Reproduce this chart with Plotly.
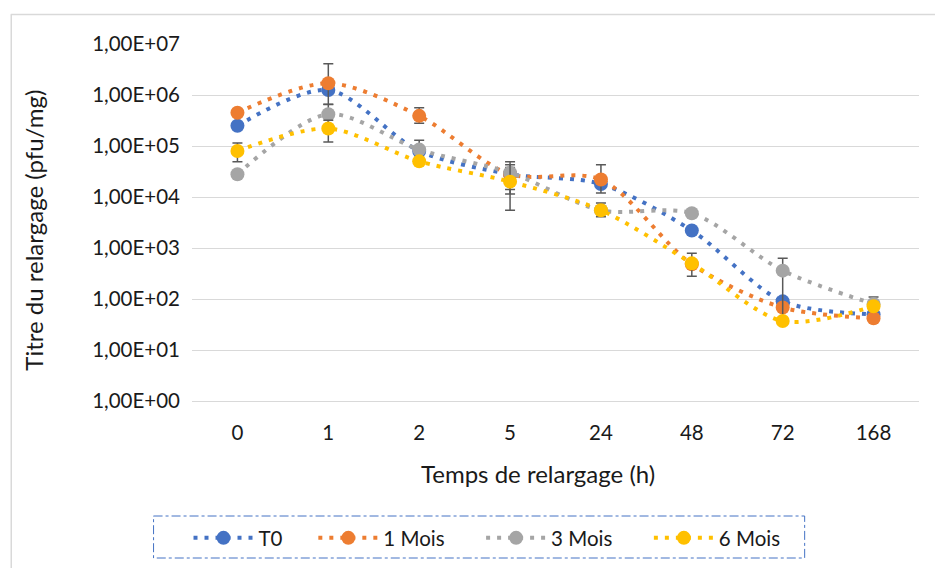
import plotly.graph_objects as go

categories = ["0", "1", "2", "5", "24", "48", "72", "168"]
series_names = ["T0", "1 Mois", "3 Mois", "6 Mois"]

t0 = [2.5e5, 1.25e6, 8.0e4, 2.8e4, 1.8e4, 2.2e3, 90, 50]
m1 = [4.5e5, 1.7e6, 3.9e5, 2.8e4, 2.2e4, 4.8e2, 68, 42]
m3 = [2.8e4, 4.2e5, 8.5e4, 3.0e4, 5.5e3, 4.8e3, 360, 80]
m6 = [8.0e4, 2.2e5, 5.0e4, 2.0e4, 5.5e3, 5.0e2, 37, 72]

t0_err_plus = [None, None, None, 1.0e4, None, None, None, None]
t0_err_minus = [None, None, None, 1.65e4, None, None, None, None]
m1_err_plus = [None, 2.4e6, 1.7e5, None, 2.1e4, None, None, None]
m1_err_minus = [None, 1.05e6, 1.1e5, None, 1.0e4, None, None, None]
m3_err_plus = [None, 2.4e5, 4.5e4, 1.9e4, None, None, 270, 30]
m3_err_minus = [None, 2.0e5, 2.5e4, 1.6e4, None, None, 320, 20]
m6_err_plus = [3.5e4, 1.0e5, None, 2.3e4, 2.1e3, 290, None, None]
m6_err_minus = [3.1e4, 1.0e5, None, 1.45e4, 1.4e3, 220, None, None]

y_tickvals = [1, 10, 100, 1e3, 1e4, 1e5, 1e6, 1e7]
y_ticktext = ["1,00E+00", "1,00E+01", "1,00E+02", "1,00E+03",
              "1,00E+04", "1,00E+05", "1,00E+06", "1,00E+07"]

colors = ["#4472C4", "#ED7D31", "#A5A5A5", "#FFC000"]
values = [t0, m1, m3, m6]
plus = [t0_err_plus, m1_err_plus, m3_err_plus, m6_err_plus]
minus = [t0_err_minus, m1_err_minus, m3_err_minus, m6_err_minus]
legend_ids = ["legend", "legend2", "legend3", "legend4"]

FONT = "Lato"
TXT = "#1a1a1a"

W, H = 935, 568
L, R, T, B = 191.5, 15.5, 44, 167
pw, ph = W - L - R, H - T - B

def px(x):
    return (x - L) / pw

def py(y):
    return (H - B - y) / ph

legend_text_px = [259, 384, 552, 720]
legend_x = [px(t - 71) for t in legend_text_px]

fig = go.Figure()
for name, vals, c, ep, em, lg in zip(series_names, values, colors, plus, minus, legend_ids):
    fig.add_trace(go.Scatter(
        x=categories, y=vals, name=name, mode="lines+markers",
        line=dict(color=c, width=4, dash="4px,7px", shape="spline", smoothing=0.85),
        marker=dict(color=c, size=14, line=dict(width=0)),
        error_y=dict(type="data", symmetric=False, array=ep, arrayminus=em,
                     color="#595959", thickness=1.5, width=5),
        legend=lg,
    ))

legend_common = dict(orientation="h", yanchor="middle", xanchor="left",
                     font=dict(family=FONT, size=20.5, color=TXT),
                     bgcolor="rgba(0,0,0,0)", borderwidth=0, itemwidth=60)

layout_legends = {}
for lg, lx in zip(legend_ids, legend_x):
    layout_legends[lg] = dict(legend_common, x=lx, y=py(538))

fig.update_layout(
    width=W, height=H,
    margin=dict(l=L, r=R, t=T, b=B, autoexpand=False),
    paper_bgcolor="white", plot_bgcolor="white",
    showlegend=True,
    font=dict(family=FONT, size=20.5, color=TXT),
    xaxis=dict(type="category", range=[-0.5, 7.5], showgrid=False,
               showline=True, linecolor="#d9d9d9", linewidth=1.3,
               ticks="", tickfont=dict(family=FONT, size=20.5, color=TXT),
               ticklabelstandoff=13, fixedrange=True),
    yaxis=dict(type="log", range=[0, 7], tickvals=y_tickvals, ticktext=y_ticktext,
               showgrid=True, gridcolor="#d9d9d9", gridwidth=1.3,
               zeroline=False, showline=False, ticks="",
               tickfont=dict(family=FONT, size=20.5, color=TXT),
               ticklabelstandoff=11, fixedrange=True),
    shapes=[
        dict(type="line", xref="paper", yref="paper", x0=px(10), x1=px(940), y0=py(14.5), y1=py(14.5),
             line=dict(color="#d9d9d9", width=1.5)),
        dict(type="line", xref="paper", yref="paper", x0=px(10.5), x1=px(10.5), y0=py(14.5), y1=py(575),
             line=dict(color="#d9d9d9", width=1.5)),
        dict(type="rect", xref="paper", yref="paper", x0=px(153), x1=px(805), y0=py(516), y1=py(558),
             line=dict(color="#4472C4", width=1, dash="dashdot"), fillcolor="rgba(0,0,0,0)"),
    ],
    annotations=[
        dict(text="Titre du relargage (pfu/mg)", xref="paper", yref="paper",
             x=px(33), y=py(230), textangle=-90, showarrow=False,
             xanchor="center", yanchor="middle", font=dict(family=FONT, size=24, color=TXT)),
        dict(text="Temps de relargage (h)", xref="paper", yref="paper",
             x=px(538), y=py(473), showarrow=False,
             xanchor="center", yanchor="middle", font=dict(family=FONT, size=24, color=TXT)),
    ],
    **layout_legends,
)

fig.write_html("out.html")
